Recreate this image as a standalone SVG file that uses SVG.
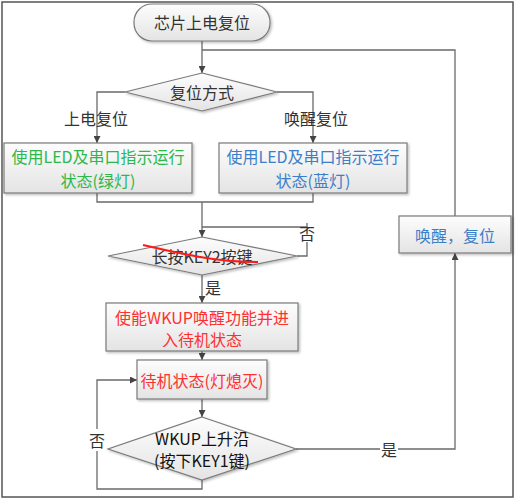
<svg xmlns="http://www.w3.org/2000/svg" width="516" height="500" viewBox="0 0 516 500">
<defs>
<linearGradient id="g" x1="0" y1="0" x2="0" y2="1">
<stop offset="0" stop-color="#fdfdfd"/>
<stop offset="1" stop-color="#e4e4e4"/>
</linearGradient>
<filter id="sh" x="-10%" y="-10%" width="130%" height="140%">
<feDropShadow dx="1.5" dy="1.5" stdDeviation="1" flood-color="#000" flood-opacity="0.25"/>
</filter>
<marker id="ar" viewBox="0 0 10 10" refX="10" refY="5" markerWidth="7" markerHeight="7" orient="auto" markerUnits="userSpaceOnUse">
<path d="M0,0 L10,5 L0,10 z" fill="#444"/>
</marker>
</defs>
<style>
.box{fill:url(#g);stroke:#7a7a7a;stroke-width:1.2;filter:url(#sh)}
.ln{fill:none;stroke:#6a6a6a;stroke-width:1.3}
text{font-family:"Noto Sans CJK SC","Liberation Sans",sans-serif;font-size:16px;text-anchor:middle;dominant-baseline:central;fill:#333}
.green{fill:#2cb84a}
.blue{fill:#3c7fc8}
.red{fill:#ff3030}
.blk{fill:#111}
</style>
<rect x="2" y="2" width="511" height="495" fill="#fff" stroke="#555" stroke-width="1.5"/>
<g id="connectors">
<path class="ln" d="M202,41 V73" marker-end="url(#ar)"/>
<path class="ln" d="M202,50 H455 V216"/>
<path class="ln" d="M125,92 H97 V143" marker-end="url(#ar)"/>
<path class="ln" d="M277,92 H313 V143" marker-end="url(#ar)"/>
<path class="ln" d="M97,193 V202 H313 V193"/>
<path class="ln" d="M202,202 V237" marker-end="url(#ar)"/>
<path class="ln" d="M297,256 H307 V242 M307,223 V227 H202"/>
<path class="ln" d="M202,275 V303" marker-end="url(#ar)"/>
<path class="ln" d="M202,351 V360" marker-end="url(#ar)"/>
<path class="ln" d="M202,399 V417" marker-end="url(#ar)"/>
<path class="ln" d="M202,480 V489 H97 V451 M97,429 V380 H137" marker-end="url(#ar)"/>
<path class="ln" d="M296,449 H380 M398,449 H455 V253" marker-end="url(#ar)"/>
<text x="64" y="118" text-anchor="start" style="text-anchor:start">上电复位</text>
<text x="316" y="118">唤醒复位</text>
<text x="307" y="233">否</text>
<text x="213" y="287">是</text>
<text x="97" y="440">否</text>
<text x="389" y="449">是</text>
</g>
<g id="start">
<rect class="box" x="134" y="4" width="136" height="37" rx="18" ry="18"/>
<text x="202" y="22">芯片上电复位</text>
</g>
<g id="reset-mode">
<polygon class="box" points="202,73 277,92 202,111 125,92"/>
<text x="202" y="92">复位方式</text>
</g>
<g id="green-led">
<rect class="box" x="4" y="143" width="188" height="50"/>
<text class="green" x="98" y="156">使用LED及串口指示运行</text>
<text class="green" x="98" y="180">状态(绿灯)</text>
</g>
<g id="blue-led">
<rect class="box" x="219" y="143" width="188" height="50"/>
<text class="blue" x="313" y="156">使用LED及串口指示运行</text>
<text class="blue" x="313" y="180">状态(蓝灯)</text>
</g>
<g id="wake-reset">
<rect class="box" x="399" y="216" width="112" height="37"/>
<text class="blue" x="455" y="235">唤醒，复位</text>
</g>
<g id="key2">
<polygon class="box" points="202,237 297,256 202,275 108,256"/>
<text x="202" y="256">长按KEY2按键</text>
<path d="M143,245 Q172,252 200,257 T258,262" fill="none" stroke="#ff1a1a" stroke-width="2"/>
</g>
<g id="enable-wkup">
<rect class="box" x="106" y="303" width="192" height="48"/>
<text class="red" x="202" y="317">使能WKUP唤醒功能并进</text>
<text class="red" x="202" y="339">入待机状态</text>
</g>
<g id="standby">
<rect class="box" x="137" y="360" width="130" height="39"/>
<text class="red" x="202" y="380">待机状态(灯熄灭)</text>
</g>
<g id="wkup-edge">
<polygon class="box" points="202,417 296,449 202,480 108,449"/>
<text class="blk" x="202" y="438">WKUP上升沿</text>
<text class="blk" x="202" y="460">(按下KEY1键)</text>
</g>
</svg>
